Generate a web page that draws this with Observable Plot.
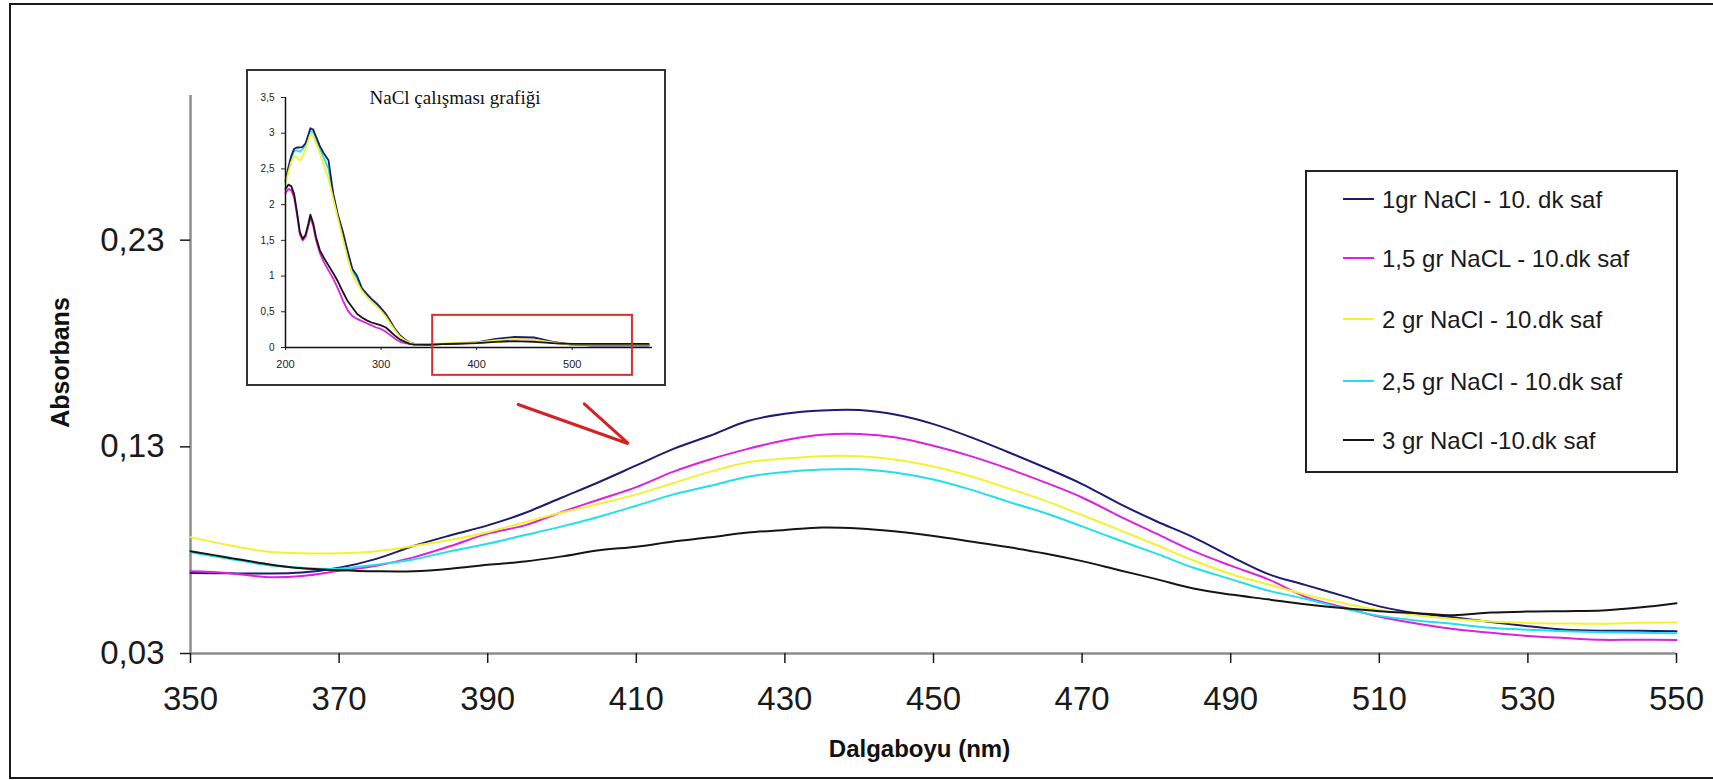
<!DOCTYPE html>
<html><head><meta charset="utf-8">
<script src="https://cdn.jsdelivr.net/npm/d3@7"></script>
<script src="https://cdn.jsdelivr.net/npm/@observablehq/plot@0.6"></script>
<style>
html,body{margin:0;padding:0;background:#fff;}
#wrap{position:relative;width:1713px;height:780px;overflow:hidden;font-family:"Liberation Sans",Arial,sans-serif;}
#frame{position:absolute;left:9px;top:3px;width:1720px;height:772px;border-left:2px solid #1a1a1a;border-top:2px solid #1a1a1a;border-bottom:2px solid #1a1a1a;}
#main{position:absolute;left:0;top:0;}
#inset{position:absolute;left:246px;top:69px;width:416px;height:313px;border:2px solid #333;background:#fff;}
#legend{position:absolute;left:1305px;top:170px;width:369px;height:299px;border:2px solid #222;background:#fff;}
</style>
</head><body>
<div id="wrap"><div id="frame"></div><div id="main"></div><div id="inset"></div><div id="legend"></div></div>
<script>
// ---------------- main chart data ----------------
const wavelengths = [350,355,360,365,370,375,380,385,390,395,400,405,410,415,420,425,430,435,440,445,450,455,460,465,470,475,480,485,490,495,500,505,510,515,520,525,530,535,540,545,550];
const nacl1  = [.069,.0688,.0687,.0692,.0715,.0758,.082,.0872,.092,.098,.1055,.113,.121,.129,.1355,.1425,.146,.1476,.1478,.1455,.141,.1347,.1275,.120,.112,.1025,.094,.0862,.077,.0685,.0632,.058,.0528,.0495,.0475,.0452,.0432,.0415,.041,.041,.0408];
const nacl15 = [.0698,.069,.067,.0675,.070,.0725,.0765,.082,.088,.092,.0985,.1045,.1105,.118,.124,.129,.1332,.1358,.1362,.1345,.1305,.1255,.1195,.1128,.1055,.0965,.088,.0795,.0725,.066,.0575,.0525,.0478,.0445,.0418,.040,.0385,.0375,.0366,.0367,.0365];
const nacl2  = [.0863,.0825,.0795,.0785,.0785,.0795,.082,.085,.0887,.0935,.0982,.1025,.107,.1125,.118,.1225,.1243,.1255,.1255,.1238,.1205,.1158,.110,.104,.097,.0898,.0825,.075,.0685,.0635,.0585,.0545,.051,.0485,.0467,.0455,.0448,.0445,.0444,.0449,.045];
const nacl25 = [.079,.076,.073,.0715,.071,.073,.0755,.0795,.0831,.0873,.0915,.0962,.1015,.107,.1112,.1155,.1178,.119,.1192,.1175,.1142,.1093,.1035,.098,.0915,.0848,.0783,.0715,.066,.0605,.0565,.052,.0482,.046,.0443,.0425,.0415,.0408,.0403,.040,.0398];
const nacl3  = [.0795,.0765,.0735,.0712,.0703,.0698,.0698,.071,.0729,.0745,.077,.080,.0817,.0842,.0862,.0885,.0898,.091,.0905,.089,.0868,.0842,.0815,.0784,.0747,.0703,.066,.0615,.0585,.0562,.0538,.052,.0505,.0495,.0485,.0498,.0503,.0505,.0508,.0522,.0543];

const seriesNames = ["1gr NaCl - 10. dk saf","1,5 gr NaCL - 10.dk saf","2 gr NaCl - 10.dk saf","2,5 gr NaCl - 10.dk saf","3 gr NaCl -10.dk saf"];
const seriesColors = ["#1c1c70","#e020e0","#f2f230","#22e0ea","#151515"];
const xTicks = [350,370,390,410,430,450,470,490,510,530,550];
const yTicks = [0.03,0.13,0.23];
const xTitle = "Dalgaboyu (nm)";
const yTitle = "Absorbans";
// annotation arrow (in data units)
const arrowNm = [394.1, 408.95, 403.0];
const arrowVal = [0.1505, 0.1315, 0.1508];

// ---------------- inset data ----------------
const insetTitle = "NaCl çalışması grafiği";
const insetNm = [200,203,206,209,212,215,218,221,224,226,229,232,236,240,245,250,255,260,265,270,275,280,285,290,295,300,305,310,315,320,325,330,335,350,370,400,420,440,460,480,500,520,550,580];
const inset1  = [2.34,2.52,2.68,2.78,2.80,2.80,2.81,2.86,2.98,3.07,3.05,2.95,2.82,2.72,2.62,2.15,1.85,1.62,1.35,1.10,1.00,0.83,0.75,0.68,0.62,0.55,0.47,0.36,0.25,0.17,0.11,0.07,0.05,0.04,0.05,0.07,0.12,0.15,0.14,0.08,0.04,0.03,0.03,0.03];
const inset15 = [2.16,2.22,2.20,2.10,1.86,1.58,1.50,1.55,1.70,1.82,1.70,1.50,1.32,1.20,1.08,0.96,0.82,0.66,0.52,0.44,0.40,0.37,0.34,0.31,0.28,0.26,0.22,0.17,0.12,0.08,0.06,0.05,0.04,0.04,0.05,0.06,0.09,0.12,0.11,0.06,0.04,0.03,0.03,0.03];
const inset2  = [2.30,2.45,2.60,2.68,2.66,2.62,2.68,2.78,2.90,2.98,2.96,2.86,2.72,2.56,2.36,2.08,1.80,1.52,1.25,1.02,0.90,0.79,0.71,0.64,0.58,0.51,0.43,0.33,0.23,0.15,0.10,0.07,0.05,0.05,0.06,0.07,0.10,0.12,0.11,0.07,0.04,0.04,0.04,0.04];
const inset25 = [2.32,2.48,2.65,2.75,2.76,2.74,2.78,2.84,2.96,3.03,3.02,2.92,2.78,2.66,2.50,2.12,1.83,1.58,1.31,1.07,0.96,0.81,0.73,0.66,0.60,0.53,0.45,0.34,0.24,0.16,0.11,0.07,0.05,0.05,0.05,0.07,0.10,0.12,0.11,0.07,0.04,0.03,0.03,0.03];
const inset3  = [2.22,2.28,2.26,2.15,1.90,1.62,1.52,1.58,1.74,1.86,1.74,1.54,1.36,1.26,1.15,1.04,0.92,0.78,0.65,0.56,0.47,0.42,0.38,0.35,0.33,0.31,0.28,0.22,0.16,0.11,0.08,0.05,0.04,0.04,0.05,0.06,0.08,0.09,0.08,0.06,0.05,0.05,0.05,0.05];
const insetXTicks = [200,300,400,500];
const insetYTicks = [0,0.5,1,1.5,2,2.5,3,3.5];
// zoom box (in inset data units)
const zoomBoxNm = [354, 563];
const zoomBoxVal = [-0.39, 0.45];

// ---------------- build tables ----------------
const mainSeries = [nacl1, nacl15, nacl2, nacl25, nacl3];
const table = mainSeries.flatMap((vals, i) => wavelengths.map((nm, j) => ({nm, value: vals[j], series: seriesNames[i]})));
const insetSeries = [inset1, inset15, inset2, inset25, inset3];
const insetOrder = [3, 1, 0, 2, 4]; // draw order
const insetTable = insetOrder.flatMap(i => insetNm.map((nm, j) => ({nm, value: insetSeries[i][j], series: seriesNames[i]})));
const arrow = arrowNm.map((nm, i) => ({nm, value: arrowVal[i]}));
const zoomBox = [{x1: zoomBoxNm[0], x2: zoomBoxNm[1], y1: zoomBoxVal[0], y2: zoomBoxVal[1]}];

const commaFmt2 = d => d.toFixed(2).replace(".", ",");
const commaFmt = d => String(d).replace(".", ",");

// ---------------- main plot ----------------
const main = Plot.plot({
  width: 1713, height: 780,
  marginLeft: 190, marginRight: 37, marginTop: 95, marginBottom: 127,
  x: {domain: [350, 550]},
  y: {domain: [0.03, 0.30]},
  color: {domain: seriesNames, range: seriesColors},
  style: {fontFamily: "'Liberation Sans', Arial, sans-serif", background: "transparent", color: "#1a1a1a", overflow: "visible"},
  marks: [
    Plot.ruleX([350], {stroke: "#8c8c8c", strokeWidth: 2.5}),
    Plot.ruleY([0.03], {stroke: "#8c8c8c", strokeWidth: 2.5}),
    Plot.axisY({ticks: yTicks, tickSize: 10, tickPadding: 16, fontSize: 33, tickFormat: commaFmt2, label: null, strokeWidth: 1.5}),
    Plot.axisX({ticks: xTicks, tickSize: 10, tickPadding: 23, fontSize: 33, tickFormat: d => String(d), label: null, strokeWidth: 1.5}),
    Plot.line(table, {x: "nm", y: "value", z: "series", stroke: "series", strokeWidth: 2, curve: "catmull-rom"}),
    Plot.line(arrow, {x: "nm", y: "value", stroke: "#d42222", strokeWidth: 3, strokeLinejoin: "miter"}),
    Plot.text([yTitle], {frameAnchor: "left", dx: -130, dy: -12, rotate: -90, textAnchor: "middle", lineAnchor: "middle", fontWeight: "bold", fontSize: 25, fill: "#111"}),
    Plot.text([xTitle], {frameAnchor: "bottom", dx: -14, dy: 96, textAnchor: "middle", lineAnchor: "middle", fontWeight: "bold", fontSize: 24, fill: "#111"})
  ]
});
document.getElementById("main").appendChild(main);

// ---------------- inset plot ----------------
const inset = Plot.plot({
  width: 416, height: 313,
  marginLeft: 37, marginRight: 12, marginTop: 26, marginBottom: 37,
  x: {domain: [200, 584]},
  y: {domain: [0, 3.5]},
  color: {domain: seriesNames, range: seriesColors},
  style: {fontFamily: "'Liberation Sans', Arial, sans-serif", background: "transparent", color: "#222", overflow: "visible"},
  marks: [
    Plot.line(insetTable, {x: "nm", y: "value", z: "series", stroke: "series", strokeWidth: 1.8}),
    Plot.ruleX([200], {stroke: "#111", strokeWidth: 1.5}),
    Plot.ruleY([0], {stroke: "#111", strokeWidth: 1.5}),
    Plot.axisY({ticks: insetYTicks, tickSize: 4, tickPadding: 7, fontSize: 10, tickFormat: commaFmt, label: null}),
    Plot.axisX({ticks: insetXTicks, tickSize: 3, tickPadding: 10, fontSize: 11, tickFormat: d => String(d), label: null}),
    Plot.rect(zoomBox, {x1: "x1", x2: "x2", y1: "y1", y2: "y2", fill: "none", stroke: "#d3302f", strokeWidth: 2}),
    Plot.text([insetTitle], {frameAnchor: "top", dx: -14, dy: 0, textAnchor: "middle", lineAnchor: "middle", fontFamily: "'Liberation Serif', 'Times New Roman', serif", fontSize: 19, fill: "#111"})
  ]
});
document.getElementById("inset").appendChild(inset);

// ---------------- legend ----------------
const rowY = [27, 86, 147, 209, 268];
const lsvg = d3.select("#legend").append("svg").attr("width", 369).attr("height", 299);
seriesNames.forEach((name, i) => {
  lsvg.append("line").attr("x1", 36).attr("x2", 67).attr("y1", rowY[i]).attr("y2", rowY[i])
    .attr("stroke", seriesColors[i]).attr("stroke-width", 2);
  lsvg.append("text").attr("x", 75).attr("y", rowY[i] + 8.5)
    .attr("font-family", "'Liberation Sans', Arial, sans-serif").attr("font-size", 24).attr("fill", "#1a1a1a")
    .text(name);
});
</script>
</body></html>
